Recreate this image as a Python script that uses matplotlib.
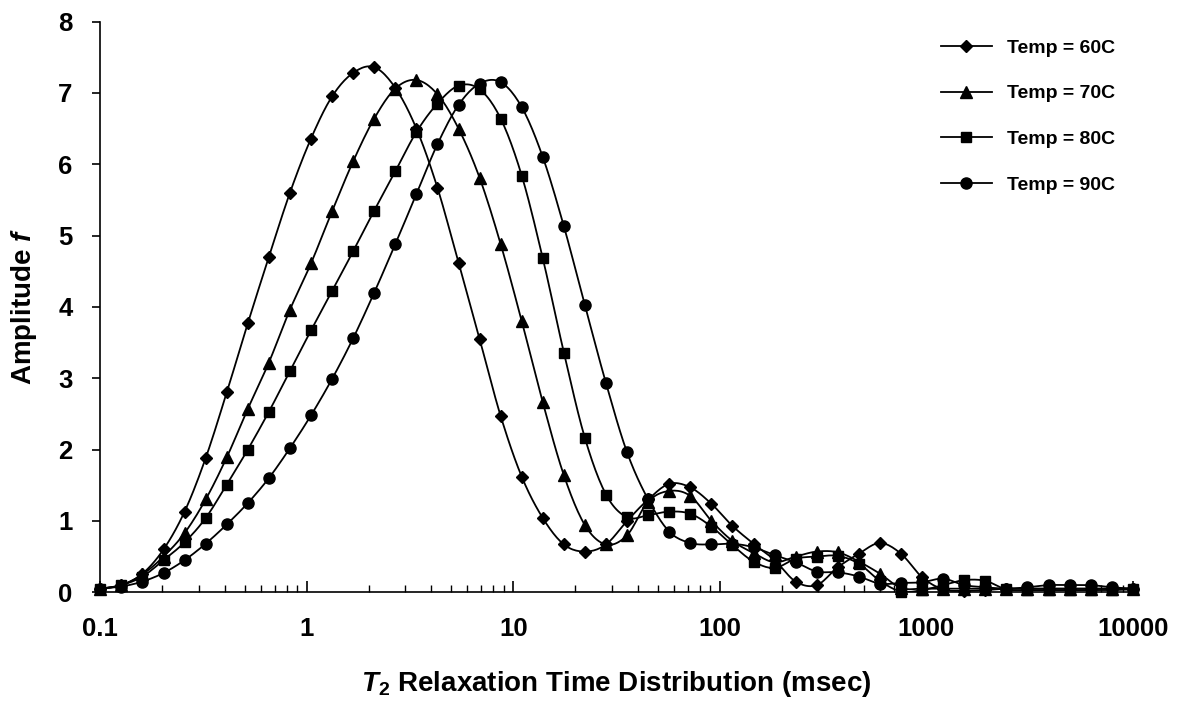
import numpy as np
import matplotlib
matplotlib.use("Agg")
import matplotlib.pyplot as plt
from matplotlib.ticker import LogLocator, NullFormatter

plt.rcParams['font.family'] = ['Liberation Sans', 'DejaVu Sans']
plt.rcParams['mathtext.fontset'] = 'custom'
plt.rcParams['mathtext.rm'] = 'Liberation Sans'
plt.rcParams['mathtext.bf'] = 'Liberation Sans:bold'
plt.rcParams['mathtext.it'] = 'Liberation Sans:italic'
plt.rcParams['mathtext.bfit'] = 'Liberation Sans:bold:italic'

t2 = np.logspace(-1, 4, 50)

temp60 = [0.05, 0.1, 0.26, 0.6, 1.13, 1.88, 2.8, 3.77, 4.7, 5.6, 6.36, 6.95, 7.28, 7.36, 7.07,
          6.5, 5.67, 4.62, 3.55, 2.47, 1.62, 1.04, 0.67, 0.57, 0.67, 1.0, 1.3, 1.52, 1.47, 1.24,
          0.93, 0.68, 0.45, 0.15, 0.1, 0.35, 0.54, 0.69, 0.54, 0.21, 0.04, 0.02, 0.03, 0.05, 0.05,
          0.05, 0.05, 0.05, 0.05, 0.05]
temp70 = [0.05, 0.1, 0.25, 0.5, 0.83, 1.3, 1.89, 2.57, 3.22, 3.96, 4.61, 5.34, 6.04, 6.64, 7.06,
          7.18, 6.98, 6.5, 5.81, 4.88, 3.8, 2.66, 1.64, 0.94, 0.67, 0.8, 1.27, 1.42, 1.35, 1.0,
          0.72, 0.55, 0.42, 0.5, 0.57, 0.56, 0.43, 0.26, 0.06, 0.05, 0.05, 0.05, 0.05, 0.05, 0.05,
          0.05, 0.05, 0.05, 0.05, 0.05]
temp80 = [0.05, 0.1, 0.22, 0.45, 0.7, 1.04, 1.51, 2.0, 2.53, 3.1, 3.67, 4.22, 4.78, 5.35, 5.9,
          6.45, 6.85, 7.1, 7.05, 6.64, 5.84, 4.68, 3.36, 2.16, 1.37, 1.05, 1.08, 1.13, 1.1, 0.92,
          0.66, 0.43, 0.34, 0.47, 0.5, 0.51, 0.4, 0.16, 0.01, 0.03, 0.1, 0.17, 0.16, 0.04, 0.03,
          0.03, 0.03, 0.03, 0.03, 0.04]
temp90 = [0.05, 0.08, 0.15, 0.27, 0.45, 0.68, 0.95, 1.25, 1.6, 2.02, 2.48, 2.99, 3.56, 4.2, 4.88,
          5.58, 6.28, 6.83, 7.13, 7.15, 6.8, 6.1, 5.13, 4.02, 2.93, 1.96, 1.3, 0.85, 0.69, 0.67,
          0.68, 0.63, 0.52, 0.42, 0.29, 0.28, 0.22, 0.12, 0.13, 0.14, 0.19, 0.1, 0.07, 0.05, 0.07,
          0.1, 0.1, 0.1, 0.07, 0.05]

series = [("Temp = 60C", temp60, 'D', 6), ("Temp = 70C", temp70, '^', 8),
          ("Temp = 80C", temp80, 's', 7.5), ("Temp = 90C", temp90, 'o', 8)]


def smooth(x, y, n=12):
    # Catmull-Rom smoothing in log-x space (like Excel smoothed lines)
    lx = np.log10(np.asarray(x)); y = np.asarray(y, float)
    P = np.column_stack([lx, y])
    P = np.vstack([P[0], P, P[-1]])
    out = []
    for i in range(1, len(P) - 2):
        p0, p1, p2, p3 = P[i - 1], P[i], P[i + 1], P[i + 2]
        for t in np.linspace(0, 1, n, endpoint=False):
            tt, ttt = t * t, t * t * t
            pt = 0.5 * ((2 * p1) + (-p0 + p2) * t + (2 * p0 - 5 * p1 + 4 * p2 - p3) * tt
                        + (-p0 + 3 * p1 - 3 * p2 + p3) * ttt)
            out.append(pt)
    out.append(P[-2])
    out = np.array(out)
    return 10 ** out[:, 0], out[:, 1]


fig = plt.figure(figsize=(11.8, 7.17), dpi=100)
ax = fig.add_axes([0.085, 0.174, 0.875, 0.796])

for label, vals, mk, ms in series:
    sx, sy = smooth(t2, vals)
    ax.plot(sx, sy, color='black', lw=1.3)
    ax.plot(t2, vals, linestyle='none', marker=mk, ms=ms, color='black', clip_on=False)
    ax.plot([], [], color='black', lw=1.3, marker=mk, ms=ms, label=label)

ax.set_xscale('log')
ax.set_xlim(0.1, 10000)
ax.set_ylim(0, 8)
ax.set_yticks(range(0, 9))
ax.set_xticks([0.1, 1, 10, 100, 1000, 10000])
ax.set_xticklabels(['0.1', '1', '10', '100', '1000', '10000'])
ax.xaxis.set_minor_locator(LogLocator(base=10, subs=np.arange(2, 10)))
ax.xaxis.set_minor_formatter(NullFormatter())
ax.tick_params(axis='x', which='major', direction='in', length=8, width=1.2, labelsize=18.5, pad=18)
ax.tick_params(axis='x', which='minor', direction='in', length=5, width=1)
ax.tick_params(axis='y', direction='out', length=6, width=1.2, labelsize=18.5, pad=14)
for lab in ax.get_xticklabels() + ax.get_yticklabels():
    lab.set_fontweight('bold')
for s in ['top', 'right']:
    ax.spines[s].set_visible(False)
for s in ['left', 'bottom']:
    ax.spines[s].set_linewidth(1.2)

ax.set_ylabel(r'Amplitude $\mathbfit{f}$', fontsize=20, fontweight='bold', labelpad=14)
ax.set_xlabel(r'$\mathbfit{T}_{\mathbf{2}}$ Relaxation Time Distribution (msec)', fontsize=20,
              fontweight='bold', labelpad=20)

leg = ax.legend(loc='upper right', bbox_to_anchor=(1.0, 1.0), frameon=False,
                prop={'weight': 'bold', 'size': 14}, labelspacing=1.45, handlelength=2.6)

fig.savefig('out.png', dpi=100)
